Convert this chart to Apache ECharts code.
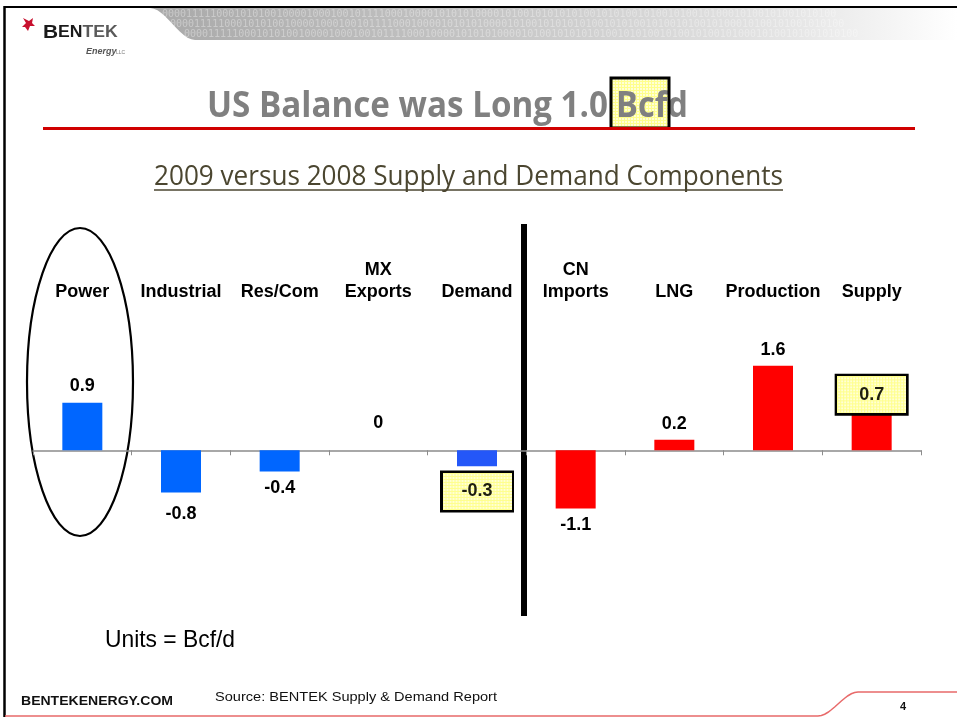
<!DOCTYPE html>
<html><head><meta charset="utf-8">
<script src="https://cdn.jsdelivr.net/npm/echarts@6/dist/echarts.min.js"></script>
<style>html,body{margin:0;padding:0;background:#fff;}#c{width:957px;height:721px;}</style>
</head><body><div id="c"></div>
<script>
// ---- data ----
const categories = ['Power', 'Industrial', 'Res/Com', 'MX\nExports', 'Demand', 'CN\nImports', 'LNG', 'Production', 'Supply'];
const values = [0.9, -0.8, -0.4, 0, -0.3, -1.1, 0.2, 1.6, 0.7];
const demandSide = ['Power', 'Industrial', 'Res/Com', 'MX\nExports', 'Demand'];
const totals = ['Demand', 'Supply'];
const titleMain = 'US Balance was Long 1.0';
const titleUnit = 'Bcfd';
const subtitleText = '2009 versus 2008 Supply and Demand Components';

// ---- styles ----
const BLUE = '#0066FF', BLUE_TOTAL = '#2457F8', RED = '#FF0000';
const labelTweak = {
  'Power': {position: 'top', distance: 8},
  'Industrial': {position: 'bottom', distance: 12},
  'Res/Com': {position: 'bottom', distance: 8},
  'MX\nExports': {position: 'top', distance: 18},
  'Demand': {position: 'bottom', distance: 6.8},
  'CN\nImports': {position: 'bottom', distance: 8},
  'LNG': {position: 'top', distance: 7},
  'Production': {position: 'top', distance: 7},
  'Supply': {position: 'top', distance: 0}
};

const mctx = document.createElement('canvas').getContext('2d');
function fit(text, font, w) { mctx.font = font; return w / mctx.measureText(text).width; }

function gridCanvas(w, h) {
  const cv = document.createElement('canvas');
  cv.width = w; cv.height = h;
  const g = cv.getContext('2d');
  g.fillStyle = '#FFFFD6'; g.fillRect(0, 0, w, h);
  g.fillStyle = '#FFFF8C';
  for (let x = 0; x < w; x += 3) g.fillRect(x, 0, 1, h);
  for (let y = 0; y < h; y += 3) g.fillRect(0, y, w, 1);
  return cv;
}
const boxBg = gridCanvas(69, 37);
const tileBg = gridCanvas(6, 6);

const seriesData = categories.map((c, i) => {
  const isDemand = demandSide.indexOf(c) >= 0;
  const color = c === 'Demand' ? BLUE_TOTAL : (isDemand ? BLUE : RED);
  const t = labelTweak[c];
  const lab = {show: true, position: t.position, distance: t.distance,
    fontFamily: 'Liberation Sans, Arial', fontWeight: 'bold', fontSize: 18, color: '#000'};
  if (totals.indexOf(c) >= 0) {
    Object.assign(lab, {backgroundColor: {image: boxBg}, borderColor: '#000', borderWidth: 5,
      padding: [9.5, 10], width: 49, height: 18, align: 'center', lineHeight: 18, color: '#1e1e10'});
  }
  return {value: values[i], itemStyle: {color: color}, label: lab};
});

const titleFont = 'bold 35px "Open Sans"';
const subFont = '27px "Open Sans"';
const unitsFont = '24px "Liberation Sans Narrow", "Liberation Sans", Arial';
const logoText = '{a|B}{b|EN}{c|TEK}';

const binary = '0000111110001010100100001000100101111000100001010101000010100101010101001010100101001010010100010100101001010100';

function curvePts(x0, y0, x1, y1, n) {
  const pts = [];
  for (let k = 0; k <= n; k++) {
    const t = k / n, s = t * t * (3 - 2 * t);
    pts.push([x0 + (x1 - x0) * t, y0 + (y1 - y0) * s]);
  }
  return pts;
}

const bannerPts = [[957, 8], [957, 40], [195, 40]].concat(curvePts(195, 40, 150, 8, 12).slice(1));
const footerPts = [[5, 716], [818, 716]].concat(curvePts(818, 716, 858, 692, 12).slice(1)).concat([[957, 692]]);

const graphic = [
  // frame
  {type: 'line', shape: {x1: 4.5, y1: 6, x2: 4.5, y2: 717}, style: {stroke: '#000', lineWidth: 2.5}},
  {type: 'line', shape: {x1: 4, y1: 7, x2: 957, y2: 7}, style: {stroke: '#000', lineWidth: 2}},
  // header banner
  {type: 'polygon', shape: {points: bannerPts},
    style: {fill: {type: 'linear', x: 0, y: 0, x2: 1, y2: 0, colorStops: [
      {offset: 0, color: '#a9a9a9'}, {offset: 0.4, color: '#c4c4c4'}, {offset: 0.8, color: '#e6e6e6'}, {offset: 1, color: '#ffffff'}]}}},
  {type: 'text', x: 162, y: 14, style: {text: binary, font: '10px "DejaVu Sans Mono"', fill: 'rgba(255,255,255,0.35)', verticalAlign: 'middle'}},
  {type: 'text', x: 170, y: 24, style: {text: binary, font: '10px "DejaVu Sans Mono"', fill: 'rgba(255,255,255,0.35)', verticalAlign: 'middle'}},
  {type: 'text', x: 184, y: 34, style: {text: binary, font: '10px "DejaVu Sans Mono"', fill: 'rgba(255,255,255,0.35)', verticalAlign: 'middle'}},
  // logo
  {type: 'polygon', shape: {points: [[23, 18], [29, 21], [33, 18], [32, 23], [35, 26], [30, 26], [28, 31], [25, 27], [22, 27], [26, 23]]}, style: {fill: '#c8102e'}},
  {type: 'text', x: 43, y: 42, scaleX: 1.1, style: {text: logoText, verticalAlign: 'bottom',
    rich: {a: {font: 'bold 19px "Liberation Sans", Arial', fill: '#1a1a1a'},
           b: {font: 'bold 16px "Liberation Sans", Arial', fill: '#1a1a1a'},
           c: {font: 'bold 16px "Liberation Sans", Arial', fill: '#5a5a5a'}}}},
  {type: 'text', x: 86, y: 52, style: {text: 'Energy', font: 'italic bold 9px "Liberation Sans", Arial', fill: '#555', verticalAlign: 'middle'}},
  {type: 'text', x: 116, y: 53, style: {text: 'LLC', font: '5px "Liberation Sans", Arial', fill: '#777', verticalAlign: 'middle'}},
  // title
  {type: 'rect', shape: {x: 611, y: 78, width: 58, height: 50}, style: {fill: {image: tileBg, repeat: 'repeat'}}},
  {type: 'text', x: 207, y: 107, scaleX: fit(titleMain, titleFont, 401), style: {text: titleMain, font: titleFont, fill: '#808080', verticalAlign: 'middle'}},
  {type: 'text', x: 616, y: 107, scaleX: fit(titleUnit, titleFont, 72), style: {text: titleUnit, font: titleFont, fill: '#808080', verticalAlign: 'middle'}},
  {type: 'rect', shape: {x: 611, y: 78, width: 58, height: 50}, style: {fill: 'none', stroke: '#000', lineWidth: 3}},
  {type: 'line', shape: {x1: 43, y1: 128.5, x2: 915, y2: 128.5}, style: {stroke: '#d00000', lineWidth: 3}},
  // subtitle
  {type: 'text', x: 154, y: 177, scaleX: fit(subtitleText, subFont, 629), style: {text: subtitleText, font: subFont, fill: '#4B4630', verticalAlign: 'middle'}},
  {type: 'line', shape: {x1: 154, y1: 190, x2: 783, y2: 190}, style: {stroke: '#4B4630', lineWidth: 1.5}},
  // divider
  {type: 'line', shape: {x1: 524, y1: 224, x2: 524, y2: 616}, style: {stroke: '#000', lineWidth: 6}},
  // ellipse
  {type: 'ellipse', shape: {cx: 80, cy: 382, rx: 53, ry: 154}, style: {fill: 'none', stroke: '#000', lineWidth: 2.2}},
  // units
  {type: 'text', x: 105, y: 640, scaleX: fit('Units = Bcf/d', unitsFont, 130), style: {text: 'Units = Bcf/d', font: unitsFont, fill: '#000', verticalAlign: 'middle'}},
  // footer
  {type: 'polyline', shape: {points: footerPts}, style: {fill: 'none', stroke: '#e86a6a', lineWidth: 1.5}},
  {type: 'text', x: 21, y: 701, scaleX: fit('BENTEKENERGY.COM', 'bold 13px "Liberation Sans"', 152), style: {text: 'BENTEKENERGY.COM', font: 'bold 13px "Liberation Sans"', fill: '#111', verticalAlign: 'middle'}},
  {type: 'text', x: 215, y: 697, scaleX: fit('Source: BENTEK Supply & Demand Report', '13px "Liberation Sans"', 282), style: {text: 'Source: BENTEK Supply & Demand Report', font: '13px "Liberation Sans"', fill: '#111', verticalAlign: 'middle'}},
  {type: 'text', x: 903, y: 707, style: {text: '4', font: 'bold 11px "Liberation Sans"', fill: '#111', align: 'center', verticalAlign: 'middle'}}
];

const chart = echarts.init(document.getElementById('c'), null, {renderer: 'canvas'});
chart.setOption({
  animation: false,
  backgroundColor: '#fff',
  grid: {left: 33, right: 36, top: 310, bottom: 112.3},
  xAxis: [
    {type: 'category', data: categories,
      axisLine: {onZero: true, lineStyle: {color: '#8c8c8c', width: 1.5}},
      axisTick: {show: true, length: 5, lineStyle: {color: '#8c8c8c'}},
      axisLabel: {show: false}, splitLine: {show: false}},
    {type: 'category', data: categories, position: 'top',
      axisLine: {show: false, onZero: false}, axisTick: {show: false}, splitLine: {show: false},
      axisLabel: {interval: 0, margin: 7, fontFamily: 'Liberation Sans, Arial', fontWeight: 'bold', fontSize: 18, lineHeight: 22, color: '#000'}}
  ],
  yAxis: {type: 'value', min: -3, max: 2.657, show: false},
  series: [{type: 'bar', xAxisIndex: 0, barWidth: 40, data: seriesData}],
  graphic: graphic
});
</script></body></html>
